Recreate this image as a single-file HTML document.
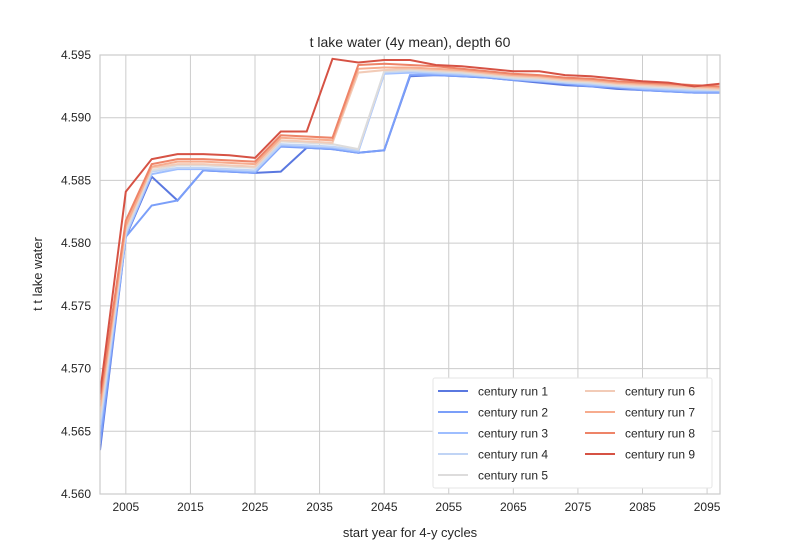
<!DOCTYPE html>
<html><head><meta charset="utf-8"><style>
body{margin:0;background:#fff}
svg text{font-family:"Liberation Sans",Arial,sans-serif;fill:#262626}
</style></head><body>
<svg id="chart" width="800" height="550" xmlns="http://www.w3.org/2000/svg">
<rect width="800" height="550" fill="#fff"/>
<g id="grid"></g>
<g id="series"></g>
<g id="axes"></g>
<text x="410" y="47" font-size="14" text-anchor="middle">t lake water (4y mean), depth 60</text>
<text x="410" y="537" font-size="13" text-anchor="middle">start year for 4-y cycles</text>
<text x="42" y="274" font-size="13" text-anchor="middle" transform="rotate(-90 42 274)">t t lake water</text>
<g id="legend"></g>
</svg>
<script>
const years=[2001,2005,2009,2013,2017,2021,2025,2029,2033,2037,2041,2045,2049,2053,2057,2061,2065,2069,2073,2077,2081,2085,2089,2093,2097];
const run1=[4.5635,4.5805,4.5853,4.5834,4.5858,4.5857,4.5856,4.5857,4.5876,4.5875,4.5872,4.5874,4.5933,4.5934,4.5933,4.5932,4.5930,4.5928,4.5926,4.5925,4.5923,4.5922,4.5921,4.5920,4.5920];
const run2=[4.5640,4.5805,4.5830,4.5834,4.5858,4.5857,4.5856,4.5877,4.5876,4.5875,4.5872,4.5874,4.5934,4.5934,4.5933,4.5932,4.5930,4.5929,4.5927,4.5925,4.5924,4.5922,4.5921,4.5920,4.5920];
const run3=[4.5650,4.5806,4.5855,4.5859,4.5859,4.5858,4.5857,4.5878,4.5877,4.5876,4.5873,4.5935,4.5936,4.5935,4.5934,4.5933,4.5931,4.5929,4.5928,4.5926,4.5925,4.5923,4.5922,4.5921,4.5921];
const run4=[4.5655,4.5808,4.5857,4.5860,4.5860,4.5859,4.5858,4.5879,4.5878,4.5877,4.5874,4.5936,4.5937,4.5936,4.5935,4.5933,4.5931,4.5930,4.5928,4.5927,4.5925,4.5924,4.5923,4.5922,4.5922];
const run5=[4.5660,4.5810,4.5858,4.5862,4.5862,4.5861,4.5860,4.5881,4.5880,4.5879,4.5875,4.5937,4.5938,4.5937,4.5936,4.5934,4.5932,4.5931,4.5929,4.5928,4.5926,4.5925,4.5924,4.5923,4.5922];
const run6=[4.5665,4.5812,4.5860,4.5863,4.5863,4.5862,4.5861,4.5882,4.5881,4.5880,4.5936,4.5938,4.5939,4.5938,4.5937,4.5935,4.5933,4.5932,4.5930,4.5929,4.5927,4.5926,4.5925,4.5924,4.5923];
const run7=[4.5670,4.5814,4.5861,4.5865,4.5865,4.5864,4.5863,4.5884,4.5883,4.5882,4.5939,4.5940,4.5940,4.5939,4.5938,4.5936,4.5934,4.5933,4.5931,4.5930,4.5928,4.5927,4.5926,4.5925,4.5924];
const run8=[4.5675,4.5818,4.5863,4.5867,4.5867,4.5866,4.5865,4.5886,4.5885,4.5884,4.5942,4.5943,4.5942,4.5941,4.5939,4.5937,4.5935,4.5934,4.5932,4.5931,4.5929,4.5928,4.5927,4.5926,4.5925];
const run9=[4.5680,4.5841,4.5867,4.5871,4.5871,4.5870,4.5868,4.5889,4.5889,4.5947,4.5944,4.5946,4.5946,4.5942,4.5941,4.5939,4.5937,4.5937,4.5934,4.5933,4.5931,4.5929,4.5928,4.5925,4.5927];
const seriesNames=["century run 1","century run 2","century run 3","century run 4","century run 5","century run 6","century run 7","century run 8","century run 9"];
const xTicks=[2005,2015,2025,2035,2045,2055,2065,2075,2085,2095];
const yTicks=[4.560,4.565,4.570,4.575,4.580,4.585,4.590,4.595];
const allRuns=[run1,run2,run3,run4,run5,run6,run7,run8,run9];
const colors=["#5a78e0","#7b9ff9","#9ebeff","#c0d4f5","#dddcdc","#f2cbb7","#f7ac8e","#ee8468","#d65244"];
const L=100,R=720,T=55,B=494,x0=2001,x1=2097,y0=4.560,y1=4.595;
const NS="http://www.w3.org/2000/svg";
function X(v){return L+(v-x0)/(x1-x0)*(R-L);}
function Y(v){return B-(v-y0)/(y1-y0)*(B-T);}
function mk(tag,attrs,parent){const e=document.createElementNS(NS,tag);for(const k in attrs)e.setAttribute(k,attrs[k]);parent.appendChild(e);return e;}
const grid=document.getElementById('grid'),axes=document.getElementById('axes'),ser=document.getElementById('series'),leg=document.getElementById('legend');
xTicks.forEach(t=>{const l=mk('line',{x1:X(t),x2:X(t),y1:T,y2:B,stroke:'#cccccc','stroke-width':1},grid);


const tx=mk('text',{x:X(t),y:B+17,'font-size':12,'text-anchor':'middle'},axes);tx.textContent=t;

});
yTicks.forEach(t=>{const l=mk('line',{x1:L,x2:R,y1:Y(t),y2:Y(t),stroke:'#cccccc','stroke-width':1},grid);


const tx=mk('text',{x:L-9,y:Y(t)+4,'font-size':12,'text-anchor':'end'},axes);tx.textContent=t.toFixed(3);

});
const fr=mk('rect',{x:L,y:T,width:R-L,height:B-T,fill:'none',stroke:'#cccccc','stroke-width':1.2},axes);


const cp=mk('clipPath',{id:'clip'},ser);mk('rect',{x:L,y:T-3,width:R-L,height:B-T+3},cp);
allRuns.forEach((r,i)=>{const d=r.map((v,j)=>(j?'L':'M')+X(years[j]).toFixed(1)+' '+Y(v).toFixed(1)).join(' ');
const p=mk('path',{d:d,fill:'none',stroke:colors[i],'stroke-width':2,'clip-path':'url(#clip)'},ser);

});
const lb=mk('rect',{x:433,y:378,width:279,height:110,fill:'#fff',stroke:'#e6e6e6','stroke-width':1,rx:2},leg);


seriesNames.forEach((n,i)=>{const col=i<5?0:1,row=i<5?i:i-5;const lx=col?585:438,ly=391+row*21;
const g=mk('g',{},leg);


mk('line',{x1:lx,x2:lx+30,y1:ly,y2:ly,stroke:colors[i],'stroke-width':2},g);
const t=mk('text',{x:lx+40,y:ly+4.5,'font-size':12},g);t.textContent=n;});
</script>
</body></html>
